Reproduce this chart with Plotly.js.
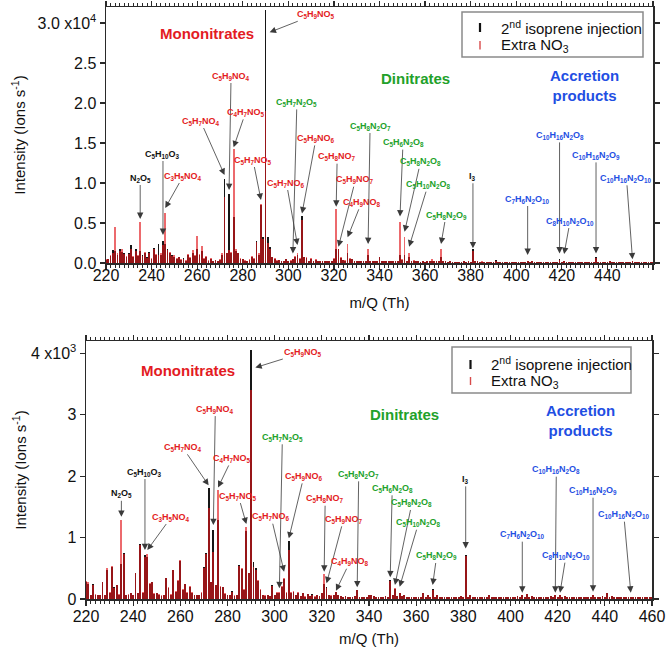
<!DOCTYPE html>
<html>
<head>
<meta charset="utf-8">
<script src="https://cdn.plot.ly/plotly-3.0.1.min.js"></script>
<style>html,body{margin:0;padding:0;background:#fff}#chart{width:666px;height:647px}</style>
</head>
<body>
<div id="chart"></div>
<script>
// ---------------- DATA ----------------
const mz = [
220,221,222,223,224,225,226,227,228,229,
230,231,232,233,234,235,236,237,238,239,
240,241,242,243,244,245,246,247,248,249,
250,251,252,253,254,255,256,257,258,259,
260,261,262,263,264,265,266,267,268,269,
270,271,272,273,274,275,276,277,278,279,
280,281,282,283,284,285,286,287,288,289,
290,291,292,293,294,295,296,297,298,299,
300,301,302,303,304,305,306,307,308,309,
310,311,312,313,314,315,316,317,318,319,
320,321,322,323,324,325,326,327,328,329,
330,331,332,333,334,335,336,337,338,339,
340,341,342,343,344,345,346,347,348,349,
350,351,352,353,354,355,356,357,358,359,
360,361,362,363,364,365,366,367,368,369,
370,371,372,373,374,375,376,377,378,379,
380,381,382,383,384,385,386,387,388,389,
390,391,392,393,394,395,396,397,398,399,
400,401,402,403,404,405,406,407,408,409,
410,411,412,413,414,415,416,417,418,419,
420,421,422,423,424,425,426,427,428,429,
430,431,432,433,434,435,436,437,438,439,
440,441,442,443,444,445,446,447,448,449,
450,451,452,453,454,455,456,457,458,459,
460];

// Top panel (ions s-1): 2nd isoprene injection
const topInjection = [
400,500,900,1600,1500,1000,1700,1400,1200,700,
1200,2200,800,1700,900,1500,1000,1200,700,1400,
500,1900,1000,2400,1000,2800,2400,1800,1200,1000,
800,500,700,400,600,300,1000,600,1200,900,
1800,1000,1500,500,800,300,500,300,400,200,
400,1000,10500,1200,8600,1200,5700,1500,1200,500,
500,300,300,400,800,500,2800,1000,7300,3200,
31600,3300,2000,700,500,300,400,300,200,500,
300,300,500,800,1000,500,5900,800,600,300,
500,300,400,200,300,200,300,200,200,200,
500,1800,1800,600,400,300,1200,500,500,200,
300,200,200,200,300,1000,300,200,200,200,
800,300,300,200,200,200,200,300,200,1000,
400,1000,300,800,300,300,200,200,100,200,
100,200,200,300,200,300,200,800,200,300,
100,200,100,100,100,100,100,200,100,200,
100,1800,200,300,100,100,100,100,100,100,
100,400,100,100,100,100,100,100,100,100,
100,100,100,100,100,200,100,300,100,100,
100,100,100,100,100,100,100,100,100,500,
100,300,100,100,100,100,100,100,100,100,
100,100,100,100,100,700,100,100,100,100,
100,300,100,100,100,100,100,100,100,100,
100,200,100,100,100,100,100,100,100,100,
100];
// Top panel (ions s-1): extra NO3
const topExtraNO3 = [
500,450,1000,1300,4500,1200,1500,1800,1100,900,
1100,1800,900,1500,1000,5100,900,1400,600,1200,
600,1700,1100,1000,1200,2200,6300,1600,1400,900,
1000,600,800,500,500,400,1100,700,1600,1000,
3400,1100,2100,600,900,400,600,300,400,300,
500,1200,8300,1300,1600,1400,14300,1700,1300,600,
500,400,300,500,900,600,2600,1200,7400,3000,
19000,2500,1800,800,600,400,400,300,300,500,
300,400,500,900,1200,600,5400,700,700,300,
600,300,500,200,300,200,300,200,200,200,
600,6800,1700,700,400,400,2400,600,500,200,
300,200,200,200,300,1800,300,200,200,200,
700,300,300,200,200,200,200,300,200,5100,
500,3200,300,1200,300,400,200,200,100,200,
100,200,200,500,200,300,200,1700,200,300,
100,200,100,100,100,100,100,200,100,200,
100,1500,200,300,100,200,100,100,100,100,
100,300,100,100,100,100,100,100,100,100,
100,100,100,100,100,200,100,300,100,100,
100,100,100,100,100,100,100,100,100,400,
100,300,100,100,100,100,100,100,100,100,
100,100,100,100,100,600,100,100,100,100,
100,300,100,100,100,100,100,100,100,100,
100,200,100,100,100,100,100,100,100,100,
100];

// Bottom panel (ions s-1): 2nd isoprene injection
const botInjection = [
280,250,60,250,70,60,70,270,60,480,
100,520,200,220,70,570,750,60,70,100,
60,420,100,900,100,720,680,250,280,80,
100,70,50,60,350,180,70,480,120,300,
620,150,250,100,200,100,60,70,60,100,
520,750,1800,280,1130,220,1280,200,200,80,
60,60,130,50,70,550,490,150,1100,420,
4050,600,500,300,150,60,50,60,50,220,
60,100,100,200,330,100,950,100,120,60,
100,50,100,40,80,50,80,40,60,50,
100,250,200,60,50,60,120,60,50,40,
50,40,40,40,50,150,40,40,30,40,
60,60,50,40,40,40,40,50,40,310,
60,170,50,100,50,70,30,40,30,40,
30,40,30,100,40,60,40,160,40,60,
30,40,30,30,30,30,30,40,30,50,
30,720,40,70,30,40,30,40,30,40,
30,60,30,40,30,40,30,40,30,40,
30,40,30,50,30,60,30,80,30,50,
30,40,30,40,30,40,30,50,30,60,
30,60,30,50,30,40,30,40,30,40,
30,40,30,40,30,60,30,40,30,50,
30,90,40,50,30,40,30,40,30,40,
30,40,30,40,30,40,30,40,30,30,
30];
// Bottom panel (ions s-1): extra NO3
const botExtraNO3 = [
300,280,70,230,80,70,70,280,70,500,
110,540,180,230,80,1290,740,70,80,90,
70,430,100,880,120,690,730,260,270,100,
90,80,60,70,340,190,80,470,130,310,
630,160,250,110,210,110,70,60,70,110,
510,740,1480,270,770,230,1780,210,190,90,
70,60,120,60,70,540,500,160,1170,430,
3400,520,480,310,160,70,60,60,50,210,
60,110,110,210,350,110,800,110,130,60,
110,50,90,50,80,50,70,50,60,50,
90,400,180,70,60,60,120,60,50,40,
50,40,40,40,50,150,40,40,30,40,
70,60,50,40,40,40,40,50,40,300,
60,180,50,100,50,70,30,40,30,40,
30,40,30,100,40,60,40,150,40,60,
30,40,30,30,30,30,30,40,30,50,
30,700,40,60,30,40,30,40,30,40,
30,60,30,40,30,40,30,40,30,40,
30,40,30,50,30,60,30,80,30,50,
30,40,30,40,30,40,30,50,30,60,
30,60,30,50,30,40,30,40,30,40,
30,40,30,40,30,60,30,40,30,50,
30,90,40,50,30,40,30,40,30,40,
30,40,30,40,30,40,30,40,30,30,
30];

const seriesNames = ["2<sup>nd</sup> isoprene injection", "Extra NO<sub>3</sub>"];
const xTickVals = [220,240,260,280,300,320,340,360,380,400,420,440,460];
const topYTickVals = [0,5000,10000,15000,20000,25000,30000];
const topYTickText = ["0.0","0.5","1.0","1.5","2.0","2.5","3.0 x10<sup>4</sup>"];
const botYTickVals = [0,1000,2000,3000,4000];
const botYTickText = ["0","1","2","3","4 x10<sup>3</sup>"];
const groupNames = ["Mononitrates","Dinitrates","Accretion<br>products"];

// Peak labels: formula, class (k=other, r=mononitrate, g=dinitrate, b=accretion), m/Q of the peak
const peakFormula = ["N2O5","C5H10O3","C3H5NO4","C5H7NO4","C5H9NO4","C4H7NO5","C5H7NO5","C5H9NO5",
  "C5H7N2O5","C5H9NO6","C5H7NO6","C5H8NO7","C5H9NO7","C4H9NO8","C5H8N2O7","C5H6N2O8",
  "C5H8N2O8","C5H10N2O8","C5H8N2O9","I3","C7H6N2O10","C10H16N2O8","C8H10N2O10","C10H16N2O9","C10H16N2O10"];
const peakClass = ["k","k","r","r","r","r","r","r","g","r","r","r","r","r","g","g","g","g","g","k","b","b","b","b","b"];
const peakMz = [235,245,246,272,274,276,288,290,302,306,304,321,322,326,335,349,351,353,367,381,405,419,421,435,451];

// ---------------- LAYOUT (label placement: arrow tip height, text offset in px) ----------------
const topArrow = [
 [5500,0,-41],[3500,0,-81],[6875,18,-32],[11000,-24,-54],[9125,2,-114],[14460,12,-35],[7875,-8,-40],[28840,46,-18],
 [1200,4,-151],[6200,14,-75],[2250,-11,-62],[7040,1,-50],[2040,17,-67],[3210,14,-35],[2375,2,-118],[5800,3,-74],
 [3900,16,-70],[2040,19,-62],[2375,5,-29],[1840,0,-72],[1000,0,-56],[1200,0,-118],[1120,6,-33],[1200,0,-98],[460,-6,-81]];
const botArrow = [
 [1338,0,-23],[797,0,-78],[797,24,-33],[1850,-26,-38],[1203,2,-116],[1816,14,-29],[1220,-8,-28],[3767,48,-15],
 [174,3,-151],[987,15,-62],[444,-13,-55],[444,1,-73],[255,17,-64],[135,14,-29],[190,1.5,-113],[353,2,-89],
 [228,17,-82],[200,19,-64],[228,4,-29],[824,0,-69],[103,0,-58],[103,1,-123],[103,6,-37],[119,0,-101],[103,-7,-78]];
const arrowShiftX = {7: 1.8};   // C5H9NO5 arrow points just right of the main peak

const W = 666, H = 647;
const FONT = "Liberation Sans, Arial, Helvetica, sans-serif";
const classColor = {k:"#111111", r:"#e31b23", g:"#22a12a", b:"#1f4fe3"};
const RED = "rgb(226,22,26)", BLACK = "#161616";
const sub = s => s.replace(/(\d+)/g, "<sub>$1</sub>");
const px = v => v / W, py = v => 1 - v / H;

const traces = [];
function addPanel(xa, ya, blk, red) {
  traces.push({type:"bar", x: mz, y: blk, xaxis: xa, yaxis: ya, name: seriesNames[0],
    marker:{color: BLACK, line:{width:0}}, width: 0.78, showlegend:false, hoverinfo:"x+y"});
  traces.push({type:"bar", x: mz, y: red, xaxis: xa, yaxis: ya, name: seriesNames[1],
    marker:{color: RED, opacity: 0.64, line:{width:0}}, width: 0.78, showlegend:false, hoverinfo:"x+y"});
}
addPanel("x","y", topInjection, topExtraNO3);
addPanel("x2","y2", botInjection, botExtraNO3);

const annotations = [];
function addLabels(xr, yr, arrows) {
  peakFormula.forEach((f, i) => {
    const [tip, ax, ay] = arrows[i];
    annotations.push({xref: xr, yref: yr, x: peakMz[i] + (arrowShiftX[i] || 0), y: tip, ax: ax, ay: ay,
      text: "<b>" + sub(f) + "</b>", showarrow: true, arrowhead: 2, arrowsize: 1.6, arrowwidth: 0.8,
      arrowcolor: "#3a3a3a", standoff: 0, startstandoff: 0,
      font: {family: FONT, size: 9, color: classColor[peakClass[i]]}});
  });
}
addLabels("x","y", topArrow);
addLabels("x2","y2", botArrow);

// group titles
function addGroups(pos) {
  const cols = [classColor.r, classColor.g, classColor.b];
  groupNames.forEach((g, i) => annotations.push({xref:"paper", yref:"paper", x: px(pos[i][0]), y: py(pos[i][1]),
    text: "<b>" + g + "</b>", showarrow:false, xanchor:"center", yanchor:"middle",
    font:{family: FONT, size: 15, color: cols[i]}}));
}
addGroups([[207,33],[415,78],[584,85]]);
addGroups([[188,370],[404,414],[580,420]]);

// legends (box, sample marks, texts)
const shapes = [];
function addLegend(x0, y0, x1, y1, markX, textX, rows) {
  shapes.push({type:"rect", xref:"paper", yref:"paper", x0: px(x0), x1: px(x1), y0: py(y0), y1: py(y1),
    line:{color:"#8a8a8a", width:1.5}, fillcolor:"rgba(255,255,255,0)"});
  rows.forEach((r, i) => {
    shapes.push({type:"line", xref:"paper", yref:"paper", x0: px(markX), x1: px(markX), y0: py(r[0]), y1: py(r[1]),
      line:{color: i === 0 ? "#111" : "#d84a4a", width: i === 0 ? 2.2 : 1.4}});
    annotations.push({xref:"paper", yref:"paper", x: px(textX), y: py(r[2]), xanchor:"left", yanchor:"middle",
      text: seriesNames[i], showarrow:false, font:{family: FONT, size: 15, color:"#111"}});
  });
}
addLegend(462, 12, 643, 57, 480, 499, [[23,32,28],[41,49.5,45.5]]);
addLegend(452, 347, 631, 393, 470.5, 489, [[360,369,364],[377,385,381.5]]);

const axisCommon = {
  showgrid:false, zeroline:false, showline:true, linecolor:"#2a2a2a", linewidth:1.5,
  ticks:"outside", ticklen:5, tickwidth:1.2, tickcolor:"#2a2a2a", mirror:"ticks",
  tickfont:{family: FONT, size:16, color:"#111"}
};
function xAxis(domain, anchor, standoff, labelOff) {
  return Object.assign({}, axisCommon, {domain, anchor, range:[220,460], tickvals: xTickVals,
    ticklabelstandoff: labelOff,
    minor:{dtick:2, tick0:220, ticks:"outside", ticklen:3, tickwidth:1, tickcolor:"#2a2a2a", showgrid:false},
    title:{text:"m/Q (Th)", standoff: standoff, font:{family: FONT, size:15, color:"#111"}}});
}
function yAxis(domain, anchor, range, tv, tt, standoff) {
  return Object.assign({}, axisCommon, {domain, anchor, range, tickvals: tv, ticktext: tt,
    title:{text:"Intensity (Ions s<sup>-1</sup>)", standoff: standoff, font:{family: FONT, size:15, color:"#111"}}});
}

const layout = {
  width: W, height: H, margin:{l:0, r:0, t:0, b:0}, paper_bgcolor:"#fff", plot_bgcolor:"#fff",
  barmode:"overlay", bargap:0, showlegend:false,
  xaxis: xAxis([px(106), px(653)], "y", 15, -8),
  yaxis: yAxis([py(263), py(7)], "x", [0, 32000], topYTickVals, topYTickText, 8),
  xaxis2: xAxis([px(86), px(652)], "y2", 18, -3),
  yaxis2: yAxis([py(599), py(341)], "x2", [0, 4200], botYTickVals, botYTickText, 0),
  annotations, shapes
};

Plotly.newPlot("chart", traces, layout, {displayModeBar:false, staticPlot:true});
</script>
</body>
</html>
